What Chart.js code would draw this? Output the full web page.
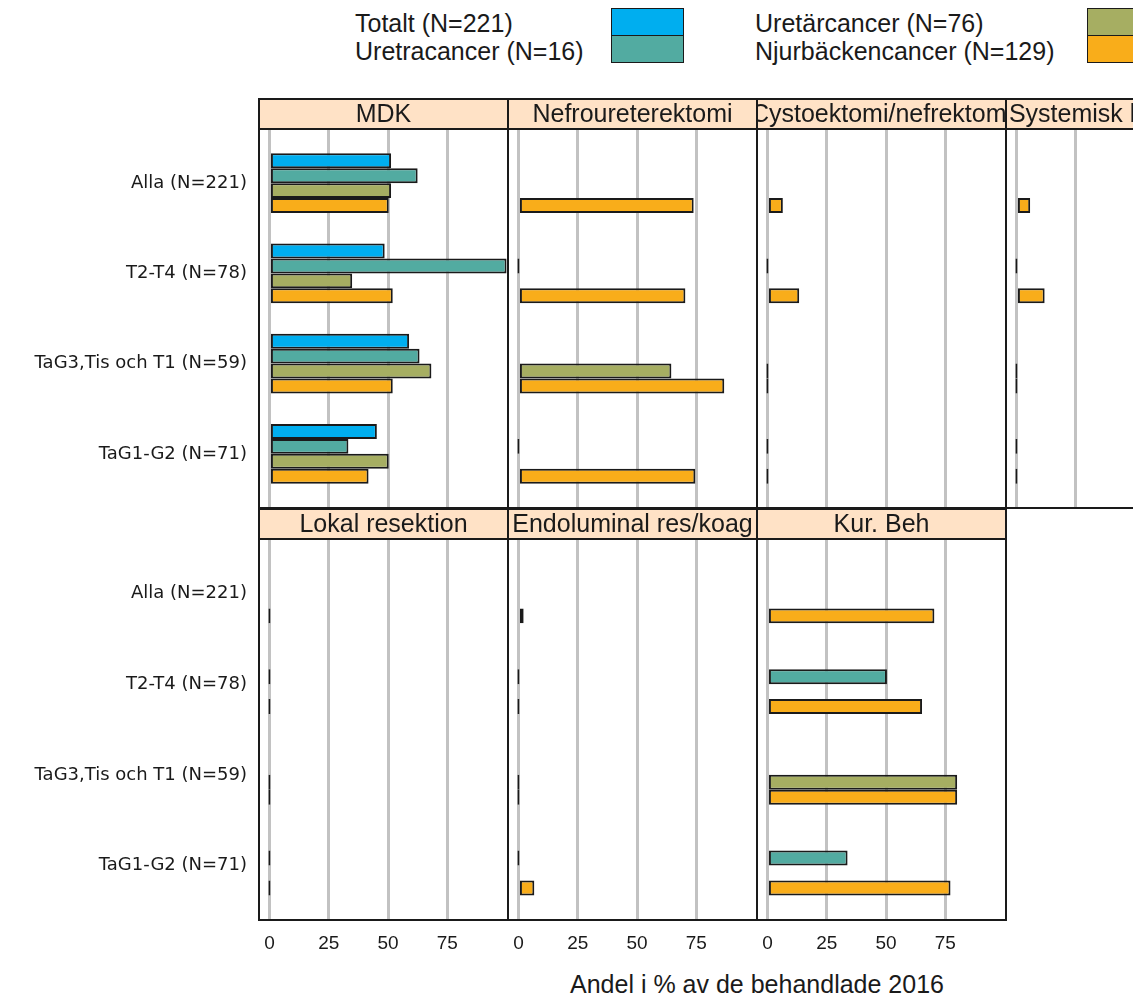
<!DOCTYPE html>
<html>
<head>
<meta charset="utf-8">
<script src="https://cdn.jsdelivr.net/npm/chart.js@4.4.1/dist/chart.umd.min.js"></script>
<style>
  html, body { margin: 0; padding: 0; background: #fff; overflow: hidden; }
  #page { position: relative; width: 1133px; height: 1000px; overflow: hidden;
          font-family: 'Liberation Sans', Arial, sans-serif; color: #1a1a1a; }
  #page canvas { position: absolute; }
  .lg-text { position: absolute; font-size: 25px; line-height: 28px; white-space: nowrap; }
  .lg-key { position: absolute; width: 73px; height: 28px; box-sizing: border-box; border: 1.5px solid #1a1a1a; }
  #xtitle { position: absolute; left: 757px; top: 970px; transform: translateX(-50%);
            font-size: 25px; line-height: 28px; white-space: nowrap; }
</style>
</head>
<body>
<div id="page">
  <div class="lg-text" style="left:355px; top:9px">Totalt (N=221)</div>
  <div class="lg-text" style="left:355px; top:37px">Uretracancer (N=16)</div>
  <div class="lg-key" style="left:611px; top:8px; background:#00aeef"></div>
  <div class="lg-key" style="left:611px; top:35px; background:#52aba1"></div>
  <div class="lg-text" style="left:755px; top:9px">Uretärcancer (N=76)</div>
  <div class="lg-text" style="left:755px; top:37px">Njurbäckencancer (N=129)</div>
  <div class="lg-key" style="left:1087px; top:8px; background:#a6ae62"></div>
  <div class="lg-key" style="left:1087px; top:35px; background:#f9ad1a"></div>
  <div id="xtitle">Andel i % av de behandlade 2016</div>
</div>
<script>
const categories = ['Alla (N=221)', 'T2-T4 (N=78)', 'TaG3,Tis och T1 (N=59)', 'TaG1-G2 (N=71)'];
const seriesNames = ['Totalt (N=221)', 'Uretracancer (N=16)', 'Uretärcancer (N=76)', 'Njurbäckencancer (N=129)'];
const panelTitles = ['MDK', 'Nefroureterektomi', 'Cystoektomi/nefrektomi', 'Systemisk behandling',
                     'Lokal resektion', 'Endoluminal res/koag', 'Kur. Beh'];
const xTicks = [0, 25, 50, 75];

// values per panel, one array per series (null = no bar)
const mdkTotalt = [51.3, 48.6, 58.9, 45.3];
const mdkUretra = [62.5, 100, 63.3, 33.3];
const mdkUretar = [51.3, 34.9, 68.3, 50.3];
const mdkNjur   = [50.3, 52.0, 52.0, 41.8];

const nefroTotalt = [null, null, null, null];
const nefroUretra = [null, 0, null, 0];
const nefroUretar = [null, null, 64.5, null];
const nefroNjur   = [73.9, 70.4, 86.8, 74.6];

const cystoTotalt = [null, null, null, null];
const cystoUretra = [null, 0, null, 0];
const cystoUretar = [null, null, 0, null];
const cystoNjur   = [6.5, 13.4, 0, 0];

const systTotalt = [null, null, null, null];
const systUretra = [null, 0, null, 0];
const systUretar = [null, null, 0, null];
const systNjur   = [5.8, 11.9, 0, 0];

const lokalTotalt = [null, null, null, null];
const lokalUretra = [null, 0, null, 0];
const lokalUretar = [null, null, 0, null];
const lokalNjur   = [0, 0, 0, 0];

const endoTotalt = [null, null, null, null];
const endoUretra = [null, 0, null, 0];
const endoUretar = [null, null, 0, null];
const endoNjur   = [2.2, 0, 0, 6.7];

const kurTotalt = [null, null, null, null];
const kurUretra = [null, 50.4, null, 33.8];
const kurUretar = [null, null, 80, null];
const kurNjur   = [70.4, 65.2, 80, 77.2];

const panelSeries = [
  [mdkTotalt, mdkUretra, mdkUretar, mdkNjur],
  [nefroTotalt, nefroUretra, nefroUretar, nefroNjur],
  [cystoTotalt, cystoUretra, cystoUretar, cystoNjur],
  [systTotalt, systUretra, systUretar, systNjur],
  [lokalTotalt, lokalUretra, lokalUretar, lokalNjur],
  [endoTotalt, endoUretra, endoUretar, endoNjur],
  [kurTotalt, kurUretra, kurUretar, kurNjur]
];

const colors = ['#00aeef', '#52aba1', '#a6ae62', '#f9ad1a'];
const ink = '#1a1a1a';

// layout of the facet grid
const colX = [259, 508, 757, 1006];
const panelW = 249;
const stripH = 30;
const rowTop = [99, 509];     // top of strip
const rowBottom = [508, 920]; // bottom of plot area

Chart.defaults.font.family = "'Liberation Sans', Arial, sans-serif";
Chart.defaults.color = ink;

const panelDeco = {
  id: 'panelDeco',
  afterDraw(chart, args, opts) {
    const { ctx, chartArea: a } = chart;
    const w = a.right - a.left;
    ctx.save();
    ctx.fillStyle = '#ffe2c6';
    ctx.fillRect(a.left, a.top - stripH, w, stripH);
    ctx.strokeStyle = ink;
    ctx.lineWidth = 2;
    ctx.strokeRect(a.left, a.top - stripH, w, stripH);
    ctx.strokeRect(a.left, a.top, w, a.bottom - a.top);
    ctx.beginPath();
    ctx.rect(a.left + 1, a.top - stripH, w - 2, stripH);
    ctx.clip();
    ctx.fillStyle = ink;
    ctx.font = "25px 'Liberation Sans', Arial, sans-serif";
    ctx.textAlign = 'center';
    ctx.textBaseline = 'middle';
    ctx.fillText(opts.title, (a.left + a.right) / 2, a.top - stripH / 2 + 1);
    ctx.restore();
  }
};

function noPadding(s) {
  s.paddingTop = 0; s.paddingBottom = 0; s.paddingLeft = 0; s.paddingRight = 0;
}

function makePanel(p) {
  const row = p < 4 ? 0 : 1;
  const col = p < 4 ? p : p - 4;
  const left = col === 0 ? 0 : colX[col] - 2;
  const top = rowTop[row] - 2;
  const width = colX[col] + panelW + 2 - left;
  const height = rowBottom[row] - top + (row === 1 ? 40 : 2);

  const canvas = document.createElement('canvas');
  canvas.width = width;
  canvas.height = height;
  canvas.style.left = left + 'px';
  canvas.style.top = top + 'px';
  canvas.style.width = width + 'px';
  canvas.style.height = height + 'px';
  document.getElementById('page').appendChild(canvas);

  const datasets = panelSeries[p].map((vals, s) => ({
    label: seriesNames[s],
    data: vals.map((v, i) => ({ x: v, y: i })),
    backgroundColor: colors[s],
    borderColor: ink,
    borderWidth: 2,
    borderSkipped: false,
    minBarLength: 2,
    categoryPercentage: 0.66,
    barPercentage: 1.0
  }));

  new Chart(canvas, {
    type: 'bar',
    data: { datasets },
    options: {
      responsive: false,
      animation: false,
      indexAxis: 'y',
      layout: { padding: { left: col === 0 ? 0 : 2, right: 2, top: 2 + stripH, bottom: row === 1 ? 0 : 2 } },
      plugins: {
        legend: { display: false },
        tooltip: { enabled: false },
        panelDeco: { title: panelTitles[p] }
      },
      scales: {
        x: {
          type: 'linear',
          min: -4.4,
          max: 100.6,
          offset: false,
          afterBuildTicks: s => { s.ticks = xTicks.map(v => ({ value: v })); },
          grid: { color: '#c2c2c2', lineWidth: 3, drawTicks: false, offset: false },
          border: { display: false },
          ticks: { display: row === 1, font: { size: 19 }, color: ink, padding: 12, maxRotation: 0 },
          afterFit: s => { s.height = row === 1 ? 40 : 0; noPadding(s); }
        },
        y: {
          type: 'linear',
          min: -0.6,
          max: 3.6,
          reverse: true,
          offset: false,
          display: col === 0,
          afterBuildTicks: s => { s.ticks = categories.map((c, i) => ({ value: i })); },
          ticks: {
            callback: v => categories[v],
            font: { family: "'DejaVu Sans', sans-serif", size: 18 },
            color: ink,
            padding: 12,
            autoSkip: false
          },
          grid: { display: false, drawTicks: false, offset: false },
          border: { display: false },
          afterFit: s => { s.width = col === 0 ? colX[0] : 0; noPadding(s); }
        }
      }
    },
    plugins: [panelDeco]
  });
}

for (let p = 0; p < panelTitles.length; p++) makePanel(p);
</script>
</body>
</html>
